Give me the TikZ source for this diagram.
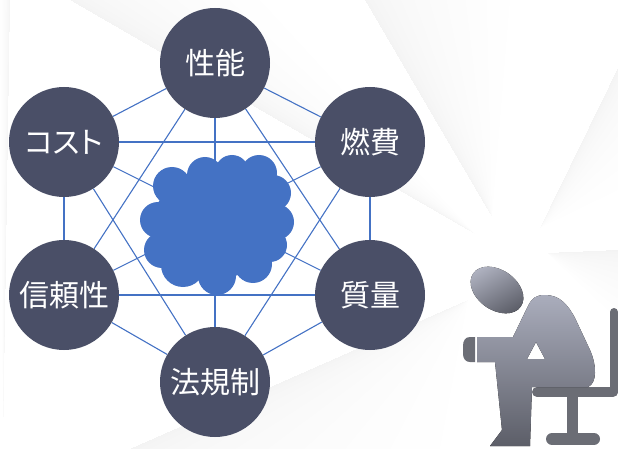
\documentclass[tikz,border=0pt]{standalone}
\usepackage{fontspec}
\newfontfamily\jp[RawFeature=+palt]{Noto Sans CJK JP}
\usetikzlibrary{calc}
\pgfdeclarelayer{rays}
\pgfdeclarelayer{links}
\pgfsetlayers{rays,links,main}

\definecolor{topicfill}{RGB}{74,79,103}
\definecolor{linkblue}{RGB}{68,114,196}
\definecolor{cloudblue}{RGB}{68,114,196}
\definecolor{chairgray}{RGB}{107,109,117}
\definecolor{bodylight}{RGB}{170,173,188}
\definecolor{bodydark}{RGB}{92,94,104}
\definecolor{handgray}{RGB}{108,110,118}

% a soft grey ray: darkest along the edge apex--P, fading towards apex--Q
\newcommand\lightray[3]{%
  \foreach \k in {1,...,12}
    \fill[rayshade] #1 -- #2 -- ($#2!{(\k/12)^2}!#3$) -- cycle;}

\begin{document}
\begin{tikzpicture}[x=1pt,y=-1pt,
  topic/.style={circle, fill=topicfill, minimum size=110pt, inner sep=0pt,
    text=white, font=\jp\fontsize{30}{36}\selectfont},
  link/.style={draw=linkblue, line width=1.1pt},
  rayshade/.style={fill=black, opacity=0.005},
  chair/.style={draw=chairgray, line cap=round}]
\useasboundingbox (0,0) rectangle (618,449);

% background rays
\begin{pgfonlayer}{rays}
  \lightray{(492,217)}{(365,0)}{(510,0)}
  \lightray{(540,228)}{(618,68)}{(618,190)}
  \lightray{(475,234)}{(70,0)}{(260,0)}
  \lightray{(468,300)}{(130,449)}{(440,449)}
  \lightray{(547,253)}{(618,250)}{(618,320)}
  \lightray{(3,449)}{(10,0)}{(0,0)}
\end{pgfonlayer}

% the six topics
\node[topic] (perf) at (215,63)  {性能};
\node[topic] (cost) at (64,142)  {コスト};
\node[topic] (fuel) at (370,142) {燃費};
\node[topic] (rel)  at (64,295)  {信頼性};
\node[topic] (mass) at (370,295) {質量};
\node[topic] (law)  at (215,382) {法規制};

% every topic is linked to every other
\begin{pgfonlayer}{links}
  \foreach \a/\b in {perf/cost,perf/fuel,perf/rel,perf/mass,perf/law,
                     cost/fuel,cost/rel,cost/mass,cost/law,
                     fuel/rel,fuel/mass,fuel/law,
                     rel/mass,rel/law,mass/law}
    \draw[link] (\a) -- (\b);
\end{pgfonlayer}

% the cloud in the middle
\coordinate (cloud) at (217,224);
\fill[cloudblue] (cloud) ellipse [x radius=64, y radius=54];
\foreach \cx/\cy/\r in {158/220/18, 172/186/19, 205/175/18, 232/172/17,
                        259/173/18, 273/193/18, 276/222/18, 270/245/17,
                        253/264/19, 217/276/19, 183/265/22, 162/250/18}
  \fill[cloudblue] (\cx,\cy) circle [radius=\r];

% chair
\draw[chair, line width=8pt] (614,312) -- (614,392);
\draw[chair, line width=10pt] (537,392) -- (613,392);
\fill[chairgray] (567,396) rectangle (578,436);
\draw[chair, line width=12pt] (552,439) -- (594,439);

% seated figure
\fill[top color=bodylight, bottom color=bodydark, even odd rule]
  (477,337) -- (513,337) -- (528,306)
  .. controls (532,298) and (536,295) .. (545,295)
  .. controls (560,295) and (568,305) .. (575,318)
  -- (590,350)
  .. controls (597,366) and (597,383) .. (588,387)
  -- (532,387) -- (530,446) -- (490,446) -- (502,430) -- (495,362)
  -- (477,362) -- cycle
  (536,342) -- (527,359) -- (545,359) -- cycle;
\fill[handgray] (475,337) -- (470,337)
  .. controls (465,337) and (463,341) .. (463,346) -- (463,354)
  .. controls (463,359) and (466,362) .. (470,362) -- (475,362) -- cycle;
\fill[top color=bodylight!95!white, bottom color=bodydark, shading angle=30,
      rotate around={-35:(497,290)}]
  (497,290) ellipse [x radius=29, y radius=20];
\end{tikzpicture}
\end{document}
